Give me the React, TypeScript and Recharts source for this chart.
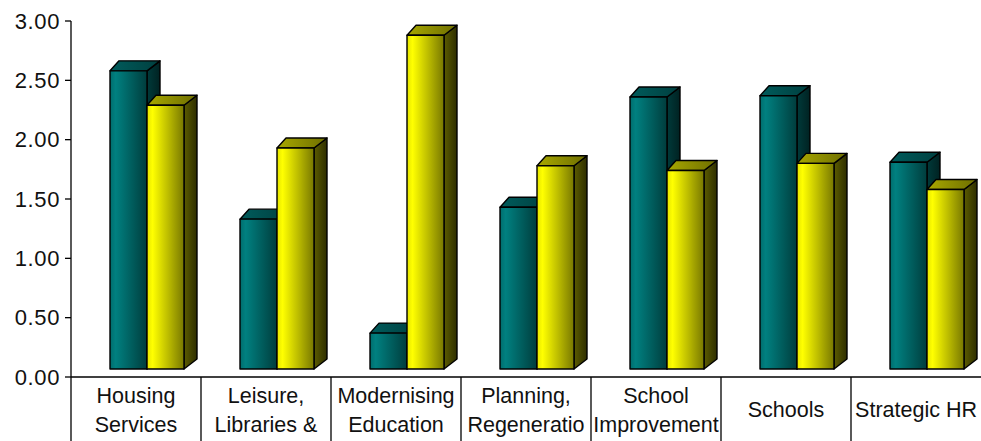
import React from 'react';
import { BarChart, Bar, XAxis, YAxis } from 'recharts';

// departments along the x axis ("\n" splits the two-line labels)
const categories = [
  'Housing\nServices',
  'Leisure,\nLibraries &',
  'Modernising\nEducation',
  'Planning,\nRegeneratio',
  'School\nImprovement',
  'Schools',
  'Strategic HR',
];
const tealValues = [2.58, 1.33, 0.37, 1.43, 2.36, 2.37, 1.81];
const yellowValues = [2.29, 1.93, 2.88, 1.78, 1.74, 1.80, 1.58];
const yTicks = [0, 0.5, 1, 1.5, 2, 2.5, 3];

const data = categories.map((name, i) => ({ name, teal: tealValues[i], yellow: yellowValues[i] }));

const W = 981;
const H = 441;
const TOP = 21;
const AXIS_W = 71;
const XAXIS_H = 64;
const PLOT_BOTTOM = H - XAXIS_H;
const BAND = (W - AXIS_W) / categories.length;
const FONT = '"Liberation Sans", Arial, sans-serif';

// 3d look: bars shifted right, sitting a bit above the axis, with a slanted top and side
const SHIFT = 11;
const FLOOR = 8;
const DX_L = 9;
const DX_R = 13;
const DY = 10;

type Pal = { front: string; top: string; side: string };

const makeShape = (pal: Pal) => (props: any) => {
  const { x, y, width, height } = props;
  if (height == null || width == null) return null;
  const l = x + SHIFT;
  const r = l + width;
  const t = y;
  const b = y + height - FLOOR;
  const st = { stroke: '#000', strokeWidth: 1.4, strokeLinejoin: 'round' as const };
  return (
    <g>
      <polygon
        points={`${r},${t} ${r + DX_R},${t - DY} ${r + DX_R},${b - DY} ${r},${b}`}
        fill={`url(#${pal.side})`}
        {...st}
      />
      <polygon
        points={`${l},${t} ${l + DX_L},${t - DY} ${r + DX_R},${t - DY} ${r},${t}`}
        fill={`url(#${pal.top})`}
        {...st}
      />
      <rect x={l} y={t} width={width} height={b - t} fill={`url(#${pal.front})`} {...st} />
    </g>
  );
};

const tealShape = makeShape({ front: 'tealFront', top: 'tealTop', side: 'tealSide' });
const yellowShape = makeShape({ front: 'yelFront', top: 'yelTop', side: 'yelSide' });

const CategoryTick = (props: any) => {
  const { x, payload } = props;
  const lines = String(payload.value).split('\n');
  const left = x - BAND / 2;
  const txt = { textAnchor: 'middle' as const, fontSize: 21.5, fontFamily: FONT, fill: '#111' };
  return (
    <g>
      <line x1={left} y1={PLOT_BOTTOM} x2={left} y2={H} stroke="#000" strokeWidth={1.3} />
      {lines.length === 1 ? (
        <text x={x} y={417} {...txt}>
          {lines[0]}
        </text>
      ) : (
        lines.map((s, i) => (
          <text key={i} x={x} y={403 + i * 29} {...txt}>
            {s}
          </text>
        ))
      )}
    </g>
  );
};

export default function App() {
  return (
    <div style={{ position: 'absolute', left: 0, top: 0, background: '#fff' }}>
      <BarChart
        width={W}
        height={H}
        data={data}
        margin={{ top: TOP, right: 0, bottom: 0, left: 0 }}
        barGap={0}
        barSize={37}
      >
        <defs>
          <linearGradient id="tealFront" x1="0" y1="0" x2="1" y2="0">
            <stop offset="0%" stopColor="#006c6c" />
            <stop offset="15%" stopColor="#008080" />
            <stop offset="100%" stopColor="#003d3d" />
          </linearGradient>
          <linearGradient id="tealTop" x1="0" y1="0" x2="1" y2="0">
            <stop offset="0%" stopColor="#005c5c" />
            <stop offset="100%" stopColor="#003f3f" />
          </linearGradient>
          <linearGradient id="tealSide" x1="0" y1="0" x2="1" y2="0">
            <stop offset="0%" stopColor="#003a3a" />
            <stop offset="100%" stopColor="#002222" />
          </linearGradient>
          <linearGradient id="yelFront" x1="0" y1="0" x2="1" y2="0">
            <stop offset="0%" stopColor="#e6e600" />
            <stop offset="15%" stopColor="#ffff00" />
            <stop offset="100%" stopColor="#787800" />
          </linearGradient>
          <linearGradient id="yelTop" x1="0" y1="0" x2="1" y2="0">
            <stop offset="0%" stopColor="#a8a800" />
            <stop offset="100%" stopColor="#6e6e00" />
          </linearGradient>
          <linearGradient id="yelSide" x1="0" y1="0" x2="1" y2="0">
            <stop offset="0%" stopColor="#5c5c00" />
            <stop offset="100%" stopColor="#2e2e00" />
          </linearGradient>
        </defs>
        <XAxis
          dataKey="name"
          interval={0}
          height={XAXIS_H}
          tickLine={false}
          axisLine={{ stroke: '#000', strokeWidth: 1.3 }}
          tick={<CategoryTick />}
        />
        <YAxis
          width={AXIS_W}
          domain={[0, 3]}
          ticks={yTicks}
          interval={0}
          tickFormatter={(v: number) => v.toFixed(2)}
          tickSize={6}
          tickMargin={5}
          axisLine={{ stroke: '#000', strokeWidth: 1.3 }}
          tickLine={{ stroke: '#000', strokeWidth: 1.3 }}
          tick={{ fill: '#111', fontSize: 22, fontFamily: FONT, letterSpacing: 0.6 }}
        />
        <Bar dataKey="teal" fill="#008080" shape={tealShape} isAnimationActive={false} />
        <Bar dataKey="yellow" fill="#ffff00" shape={yellowShape} isAnimationActive={false} />
      </BarChart>
    </div>
  );
}
